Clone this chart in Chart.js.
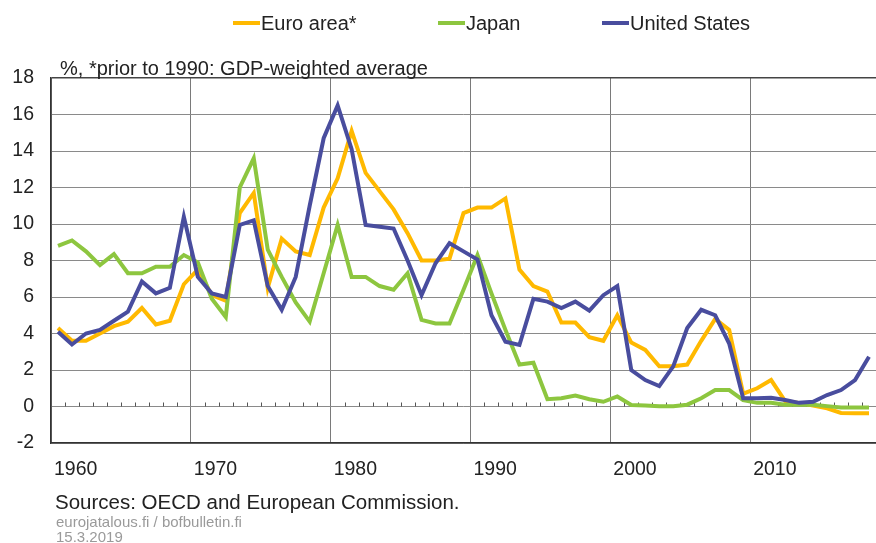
<!DOCTYPE html>
<html>
<head>
<meta charset="utf-8">
<script src="https://cdn.jsdelivr.net/npm/chart.js@4.4.1/dist/chart.umd.min.js"></script>
<style>
  body { margin: 0; background: #fff; font-family: "Liberation Sans", Arial, sans-serif; }
  #wrap { position: relative; width: 876px; height: 543px; overflow: hidden; }
  #myChart { position: absolute; left: 0; top: 0; }
  .txt { position: absolute; white-space: nowrap; line-height: 1; }
  .leg { position: absolute; top: 13px; height: 20px; display: flex; align-items: center; font-size: 20px; color: #222; }
  .leg span.ln { display: inline-block; width: 27px; height: 4px; margin-right: 1px; }
</style>
</head>
<body>
<div id="wrap">
  <canvas id="myChart" width="876" height="543"></canvas>
  <div id="legend"></div>
  <div class="txt" style="left:60px; top:58px; font-size:20px; color:#222;">%, *prior to 1990: GDP-weighted average</div>
  <div class="txt" style="left:55px; top:492px; font-size:20.5px; color:#222;">Sources: OECD and European Commission.</div>
  <div class="txt" style="left:56px; top:514px; font-size:15px; color:#9a9a9a;">eurojatalous.fi / bofbulletin.fi</div>
  <div class="txt" style="left:56px; top:529px; font-size:15px; color:#9a9a9a;">15.3.2019</div>
</div>
<script>
// datos
const years = [];
for (let y = 1960; y <= 2018; y++) years.push(y);

const euroArea = [4.3,3.6,3.6,4.0,4.4,4.65,5.4,4.5,4.7,6.7,
  7.5,6.1,5.8,10.6,11.7,6.5,9.2,8.5,8.3,10.9,
  12.5,15.1,12.8,11.8,10.8,9.5,8.0,8.0,8.1,10.6,
  10.9,10.9,11.4,7.5,6.6,6.3,4.6,4.6,3.8,3.6,
  5.0,3.5,3.1,2.2,2.2,2.3,3.6,4.8,4.2,0.7,
  1.0,1.45,0.3,0.2,0.05,-0.1,-0.35,-0.37,-0.37];

const japan = [8.8,9.1,8.5,7.75,8.35,7.3,7.3,7.66,7.66,8.3,
  7.9,5.9,4.9,12.0,13.6,8.6,7.1,5.7,4.65,7.3,
  9.95,7.1,7.1,6.6,6.4,7.3,4.75,4.55,4.55,6.4,
  8.3,6.2,4.2,2.3,2.4,0.4,0.45,0.6,0.4,0.26,
  0.55,0.08,0.05,0.02,0.02,0.1,0.45,0.9,0.9,0.35,
  0.2,0.2,0.1,0.1,0.1,0.02,-0.05,-0.05,-0.05];

const unitedStates = [4.1,3.4,4.0,4.2,4.7,5.2,6.85,6.2,6.5,10.4,
  7.1,6.2,6.0,9.95,10.2,6.6,5.3,7.1,11.0,14.7,
  16.5,14.1,9.95,9.85,9.75,8.0,6.1,7.85,8.95,8.5,
  8.05,5.0,3.55,3.37,5.9,5.75,5.4,5.75,5.25,6.1,
  6.6,2.0,1.45,1.12,2.2,4.3,5.3,5.0,3.45,0.45,
  0.45,0.48,0.36,0.2,0.26,0.63,0.9,1.45,2.73];

const seriesNames = ["Euro area*", "Japan", "United States"];
const seriesColors = ["rgb(255,185,0)", "rgb(141,198,63)", "rgb(73,77,158)"];
const yTicks = [-2, 0, 2, 4, 6, 8, 10, 12, 14, 16, 18];

const FONT = "'Liberation Sans', Arial, sans-serif";

// leyenda en html
const legendLeft = [233, 438, 602];
const legend = document.getElementById("legend");
seriesNames.forEach((name, i) => {
  const d = document.createElement("div");
  d.className = "leg";
  d.style.left = legendLeft[i] + "px";
  d.innerHTML = '<span class="ln" style="background:' + seriesColors[i] + '"></span>' + name;
  legend.appendChild(d);
});

// marcas pequeñas de cada año sobre la linea cero
const yearTicks = {
  id: "yearTicks",
  beforeDatasetsDraw(chart) {
    const { ctx, scales } = chart;
    const y0 = scales.y.getPixelForValue(0);
    ctx.save();
    ctx.strokeStyle = "#555";
    ctx.lineWidth = 1;
    for (let i = 1; i < years.length; i++) {
      if (years[i] % 10 === 0) continue;
      const x = Math.round(scales.x.getPixelForValue(i) - scales.x.width / years.length / 2) + 0.5;
      ctx.beginPath();
      ctx.moveTo(x, y0);
      ctx.lineTo(x, y0 - 4);
      ctx.stroke();
    }
    ctx.restore();
  }
};

// el ultimo (EE.UU.) queda encima
const datasets = [euroArea, japan, unitedStates].map((data, i) => ({
  label: seriesNames[i],
  data,
  order: 2 - i,
  borderColor: seriesColors[i],
  backgroundColor: seriesColors[i],
  borderWidth: 4,
  pointRadius: 0,
  tension: 0,
  fill: false
}));

new Chart(document.getElementById("myChart"), {
  type: "line",
  data: { labels: years, datasets },
  options: {
    responsive: false,
    animation: false,
    layout: { padding: { top: 78, right: 0, bottom: 0, left: 0 } },
    plugins: { legend: { display: false }, tooltip: { enabled: false } },
    scales: {
      x: {
        type: "category",
        offset: true,
        afterFit(scale) {
          scale.height = 100;
          scale.paddingLeft = 0;
          scale.paddingRight = 0;
        },
        grid: {
          offset: true,
          drawTicks: false,
          color: (c) => (c.index % 10 === 0 ? "#7a7a7a" : "transparent"),
          lineWidth: 1
        },
        border: { color: "#333", width: 1.5 },
        ticks: {
          autoSkip: false,
          maxRotation: 0,
          align: "start",
          labelOffset: -4,
          padding: 15,
          color: "#222",
          font: { family: FONT, size: 19.5 },
          callback: (v, i) => (years[i] % 10 === 0 ? String(years[i]) : "")
        }
      },
      y: {
        min: -2,
        max: 18,
        afterFit(scale) { scale.width = 51; },
        afterBuildTicks(scale) { scale.ticks = yTicks.map((v) => ({ value: v })); },
        grid: {
          drawTicks: false,
          color: (c) => (c.tick && c.tick.value === 18 ? "#444" : "#8a8a8a"),
          lineWidth: (c) => (c.tick && c.tick.value === 18 ? 1.5 : 1)
        },
        border: { color: "#333", width: 1.5 },
        ticks: {
          padding: 17,
          color: "#222",
          font: { family: FONT, size: 19.5 }
        }
      }
    }
  },
  plugins: [yearTicks]
});
</script>
</body>
</html>
